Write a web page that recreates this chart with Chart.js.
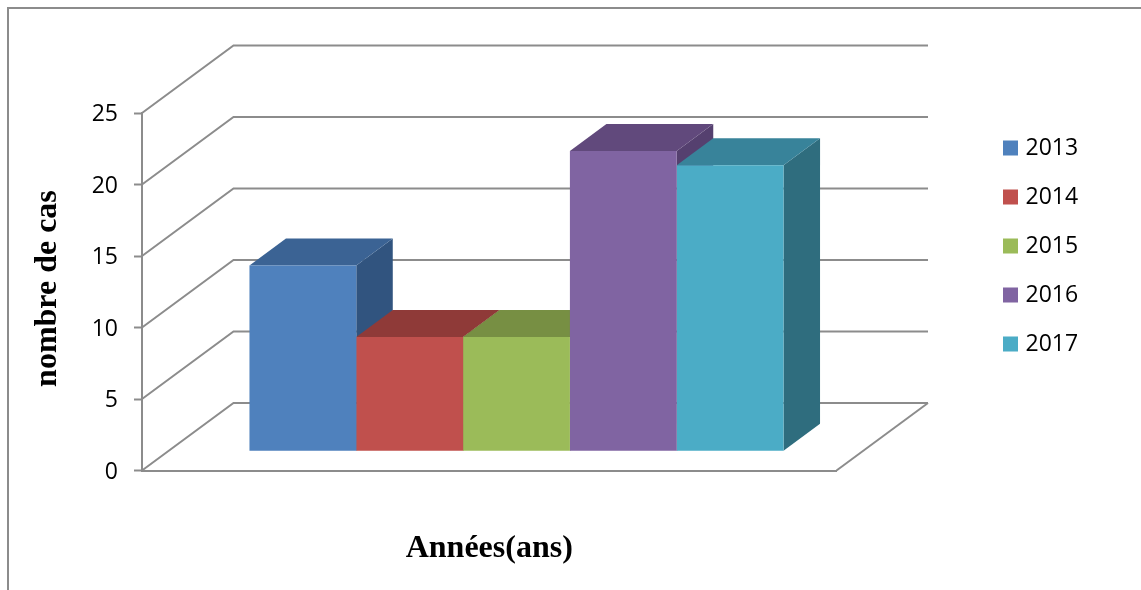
<!DOCTYPE html>
<html lang="fr">
<head>
<meta charset="utf-8">
<title>Nombre de cas par année</title>
<script src="https://cdn.jsdelivr.net/npm/chart.js@4/dist/chart.umd.min.js"></script>
<style>
  html, body { margin: 0; padding: 0; background: #fff; }
  canvas { display: block; }
</style>
</head>
<body>
<canvas id="chart" width="1141" height="590"></canvas>
<script>
// Cases per year
const years = ['2013', '2014', '2015', '2016', '2017'];
const cases = [13, 8, 8, 21, 20];
const categories = [''];

// Face colours of each column
const frontColors = ['#4f81bd', '#c0504d', '#9bbb59', '#8064a2', '#4bacc6'];
const topColors   = ['#3b6394', '#8f3a38', '#778f43', '#61497c', '#38839a'];
const sideColors  = ['#31547f', '#7c3230', '#66793a', '#55406f', '#2f6d7e'];

// Perspective settings, in pixels
const LINE = '#8c8c8c';
const WALL = { dx: 91.5, dy: 67.5 };
const COLUMN_SHIFT = { x: 27.25, y: -19.2 };
const COLUMN_DEPTH = { dx: 36.5, dy: 27 };
const RIGHT_BAND = 304.5;
const LEGEND_POS = { left: 981, top: 110.5 };

function polygon(ctx, points, fill) {
  ctx.beginPath();
  points.forEach((p, i) => (i ? ctx.lineTo(p[0], p[1]) : ctx.moveTo(p[0], p[1])));
  ctx.closePath();
  ctx.fillStyle = fill;
  ctx.fill();
}

const perspective = {
  id: 'perspective',
  beforeLayout(chart) {
    // Reserve the whole band to the right of the plot for the legend
    const legend = chart.legend;
    if (legend && !legend.fixedBand) {
      const fit = legend.fit;
      legend.fit = function () { fit.call(this); this.width = RIGHT_BAND; };
      legend.fixedBand = true;
    }
  },
  afterLayout(chart) {
    chart.legend.left = LEGEND_POS.left;
    chart.legend.top = LEGEND_POS.top;
  },
  beforeDraw(chart) {
    // Outer frame
    const { ctx, width, height } = chart;
    ctx.save();
    ctx.strokeStyle = LINE;
    ctx.lineWidth = 2;
    ctx.beginPath();
    ctx.moveTo(8, height);
    ctx.lineTo(8, 8);
    ctx.lineTo(width, 8);
    ctx.stroke();
    ctx.restore();
  },
  beforeDatasetsDraw(chart) {
    const { ctx, chartArea: area, scales } = chart;
    ctx.save();

    // Side wall and back wall rules at each tick, then the floor's right edge
    ctx.strokeStyle = LINE;
    ctx.lineWidth = 2;
    ctx.lineJoin = 'miter';
    scales.y.ticks.forEach(tick => {
      const y = scales.y.getPixelForValue(tick.value);
      ctx.beginPath();
      ctx.moveTo(area.left, y);
      ctx.lineTo(area.left + WALL.dx, y - WALL.dy);
      ctx.lineTo(area.right + WALL.dx, y - WALL.dy);
      ctx.stroke();
    });
    ctx.beginPath();
    ctx.moveTo(area.right, area.bottom);
    ctx.lineTo(area.right + WALL.dx, area.bottom - WALL.dy);
    ctx.stroke();

    // Columns stand inside the box, a little behind the front plane
    ctx.translate(COLUMN_SHIFT.x, COLUMN_SHIFT.y);
    chart.data.datasets.forEach((ds, i) => {
      const bar = chart.getDatasetMeta(i).data[0];
      const l = bar.x - bar.width / 2;
      const r = bar.x + bar.width / 2;
      const { dx, dy } = COLUMN_DEPTH;
      polygon(ctx, [[r, bar.y], [r + dx, bar.y - dy], [r + dx, bar.base - dy], [r, bar.base]], sideColors[i]);
      polygon(ctx, [[l, bar.y], [l + dx, bar.y - dy], [r + dx, bar.y - dy], [r, bar.y]], topColors[i]);
    });
    // The translation stays active while the front faces are drawn
  },
  afterDatasetsDraw(chart) {
    chart.ctx.restore();
  }
};

new Chart(document.getElementById('chart'), {
  type: 'bar',
  plugins: [perspective],
  data: {
    labels: categories,
    datasets: years.map((year, i) => ({
      label: year,
      data: [cases[i]],
      backgroundColor: frontColors[i],
      borderWidth: 0,
      pointStyle: 'rect',
      barPercentage: 1,
      categoryPercentage: 0.769
    }))
  },
  options: {
    responsive: false,
    animation: false,
    layout: { autoPadding: false, padding: { top: 113, left: 0, right: 0, bottom: 0 } },
    plugins: {
      tooltip: { enabled: false },
      title: { display: false },
      legend: {
        position: 'right',
        align: 'start',
        labels: {
          usePointStyle: true,
          boxWidth: 7,
          boxHeight: 15,
          padding: 26,
          color: '#000',
          font: { family: 'Open Sans', size: 23 }
        }
      }
    },
    scales: {
      x: {
        afterFit(scale) { scale.height = 119.5; },
        grid: { display: false },
        border: { color: LINE, width: 2 },
        ticks: { display: false },
        title: {
          display: true,
          text: 'Années(ans)',
          color: '#000',
          font: { family: 'Liberation Serif', size: 32, weight: 'bold' },
          padding: { top: 0, bottom: 22 }
        }
      },
      y: {
        min: 0,
        max: 25,
        afterFit(scale) { scale.width = 142; },
        grid: { drawOnChartArea: false, drawTicks: true, tickLength: 8, tickColor: LINE, tickWidth: 2 },
        border: { color: LINE, width: 2 },
        ticks: {
          stepSize: 5,
          padding: 16,
          labelOffset: 1.5,
          color: '#000',
          font: { family: 'Open Sans', size: 23 }
        },
        title: {
          display: true,
          text: '\u2009nombre de cas',
          color: '#000',
          font: { family: 'Liberation Serif', size: 32, weight: 'bold' },
          padding: { top: 29, bottom: 0 }
        }
      }
    }
  }
});
</script>
</body>
</html>
